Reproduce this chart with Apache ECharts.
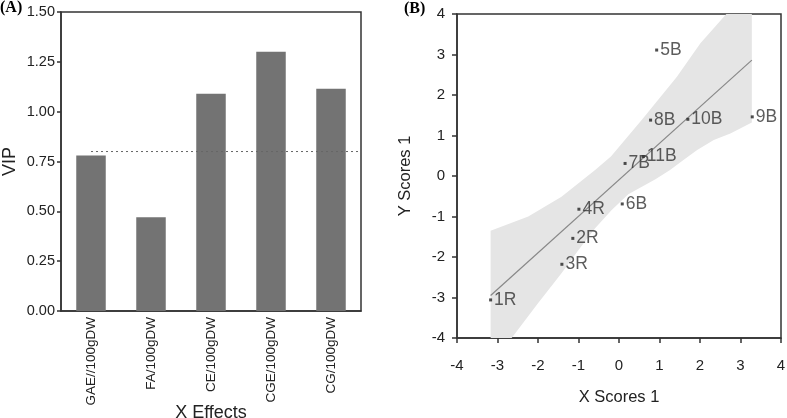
<!DOCTYPE html>
<html>
<head>
<meta charset="utf-8">
<script src="https://cdn.jsdelivr.net/npm/echarts@6/dist/echarts.min.js"></script>
<style>
html,body{margin:0;padding:0;background:#fff;}
#c{width:787px;height:418px;}
</style>
</head>
<body>
<div id="c"></div>
<script>
// Panel A data
const categories = ['GAE//100gDW', 'FA/100gDW', 'CE/100gDW', 'CGE/100gDW', 'CG/100gDW'];
const vipValues = [0.78, 0.47, 1.09, 1.30, 1.115];
const vipThreshold = 0.8;

// Panel B data
const scoreLabels = ['1R', '2R', '3R', '4R', '5B', '6B', '7B', '8B', '9B', '10B', '11B'];
const xScores = [-3.17, -1.14, -1.41, -0.99, 0.93, 0.08, 0.15, 0.78, 3.29, 1.70, 0.60];
const yScores = [-3.06, -1.54, -2.18, -0.82, 3.11, -0.69, 0.31, 1.38, 1.46, 1.40, 0.48];
const fitX = [-3.17, 3.28];
const fitY = [-2.95, 2.86];
const bandUpperX = [-3.17, -2.24, -1.42, -0.59, -0.2, 0.56, 1.43, 2.01, 2.65, 3.28];
const bandUpperY = [-1.35, -1.0, -0.51, 0.15, 0.48, 1.38, 2.45, 3.28, 4.0, 4.0];
const bandLowerX = [3.28, 2.75, 2.34, 1.93, 1.60, 1.26, 0.9, 0.23, -0.18, -0.59, -1.0, -1.42, -2.0, -2.65, -3.17];
const bandLowerY = [1.32, 1.05, 0.89, 0.64, 0.40, 0.15, -0.08, -0.45, -0.84, -1.29, -1.83, -2.40, -3.14, -4.0, -4.0];

const FONT = 'Liberation Sans, Arial, sans-serif';
const AX = '#333';

const chart = echarts.init(document.getElementById('c'), null, {renderer: 'canvas'});

const points = scoreLabels.map((n, i) => ({name: n, value: [xScores[i], yScores[i]]}));

chart.setOption({
  animation: false,
  textStyle: {fontFamily: FONT},
  graphic: [
    {type: 'text', left: 0, top: 0, style: {text: '(A)', font: 'bold 16px "Liberation Serif", "Times New Roman", serif', fill: '#000'}},
    {type: 'text', left: 404, top: 1, style: {text: '(B)', font: 'bold 16px "Liberation Serif", "Times New Roman", serif', fill: '#000'}}
  ],
  grid: [
    {left: 61, top: 12, width: 300, height: 299, show: true, borderColor: AX, borderWidth: 1.5, backgroundColor: 'transparent', containLabel: false, outerBoundsMode: 'none'},
    {left: 457, top: 14, width: 324, height: 324, show: true, borderColor: AX, borderWidth: 1.5, backgroundColor: 'transparent', containLabel: false, outerBoundsMode: 'none'}
  ],
  xAxis: [
    {
      type: 'category', gridIndex: 0, data: categories,
      axisLine: {onZero: false, lineStyle: {color: AX, width: 1.5}},
      axisTick: {show: false},
      axisLabel: {rotate: 90, fontSize: 13.5, color: '#222', margin: 6, fontFamily: FONT},
      name: 'X Effects', nameLocation: 'middle', nameGap: 93, nameMoveOverlap: false,
      nameTextStyle: {fontSize: 18, color: '#222', fontFamily: FONT}
    },
    {
      type: 'value', gridIndex: 0, min: -0.5, max: categories.length - 0.5, show: false,
      axisLine: {onZero: false}
    },
    {
      type: 'value', gridIndex: 1, min: -4, max: 4, interval: 1,
      axisLine: {onZero: false, lineStyle: {color: AX, width: 1.5}},
      axisTick: {show: true, length: 5, lineStyle: {color: AX, width: 1.5}},
      axisLabel: {fontSize: 15, color: '#222', margin: 20, fontFamily: FONT},
      splitLine: {show: false},
      name: 'X Scores 1', nameLocation: 'middle', nameGap: 51, nameMoveOverlap: false,
      nameTextStyle: {fontSize: 16.5, color: '#222', fontFamily: FONT}
    }
  ],
  yAxis: [
    {
      type: 'value', gridIndex: 0, min: 0, max: 1.5, interval: 0.25,
      axisLine: {show: true, onZero: false, lineStyle: {color: AX, width: 1.5}},
      axisTick: {show: true, length: 4, lineStyle: {color: AX, width: 1.5}},
      axisLabel: {fontSize: 14.5, color: '#222', margin: 6, formatter: v => v.toFixed(2), fontFamily: FONT},
      splitLine: {show: false},
      name: 'VIP', nameLocation: 'middle', nameGap: 42, nameMoveOverlap: false,
      nameTextStyle: {fontSize: 18, color: '#222', fontFamily: FONT}
    },
    {
      type: 'value', gridIndex: 1, min: -4, max: 4, interval: 1,
      axisLine: {show: true, onZero: false, lineStyle: {color: AX, width: 1.5}},
      axisTick: {show: true, length: 5, lineStyle: {color: AX, width: 1.5}},
      axisLabel: {fontSize: 15, color: '#222', margin: 12, fontFamily: FONT},
      splitLine: {show: false},
      name: 'Y Scores 1', nameLocation: 'middle', nameGap: 43, nameMoveOverlap: false,
      nameTextStyle: {fontSize: 16.5, color: '#222', fontFamily: FONT}
    }
  ],
  series: [
    {
      type: 'bar', xAxisIndex: 0, yAxisIndex: 0, data: vipValues,
      barWidth: 29.5,
      itemStyle: {color: '#737373'}
    },
    {
      type: 'line', xAxisIndex: 1, yAxisIndex: 0,
      data: [[0, vipThreshold], [categories.length - 0.5, vipThreshold]],
      symbol: 'none',
      lineStyle: {color: '#666', width: 1, type: [2, 3]},
      z: 3
    },
    {
      type: 'custom', xAxisIndex: 2, yAxisIndex: 1,
      data: [[0, 0]],
      z: 1,
      renderItem: function (params, api) {
        const pts = [];
        for (let i = 0; i < bandUpperX.length; i++) pts.push(api.coord([bandUpperX[i], bandUpperY[i]]));
        for (let i = 0; i < bandLowerX.length; i++) pts.push(api.coord([bandLowerX[i], bandLowerY[i]]));
        return {type: 'polygon', shape: {points: pts}, style: {fill: '#e5e5e5', stroke: null}};
      }
    },
    {
      type: 'line', xAxisIndex: 2, yAxisIndex: 1,
      data: fitX.map((x, i) => [x, fitY[i]]),
      symbol: 'none',
      lineStyle: {color: '#888', width: 1.2},
      z: 3
    },
    {
      type: 'scatter', xAxisIndex: 2, yAxisIndex: 1,
      data: points,
      symbol: 'rect', symbolSize: 3,
      itemStyle: {color: '#222'},
      label: {show: true, position: 'right', distance: 2, formatter: p => p.name, fontSize: 17.5, color: '#333', fontFamily: FONT},
      z: 4
    }
  ]
});
</script>
</body>
</html>
